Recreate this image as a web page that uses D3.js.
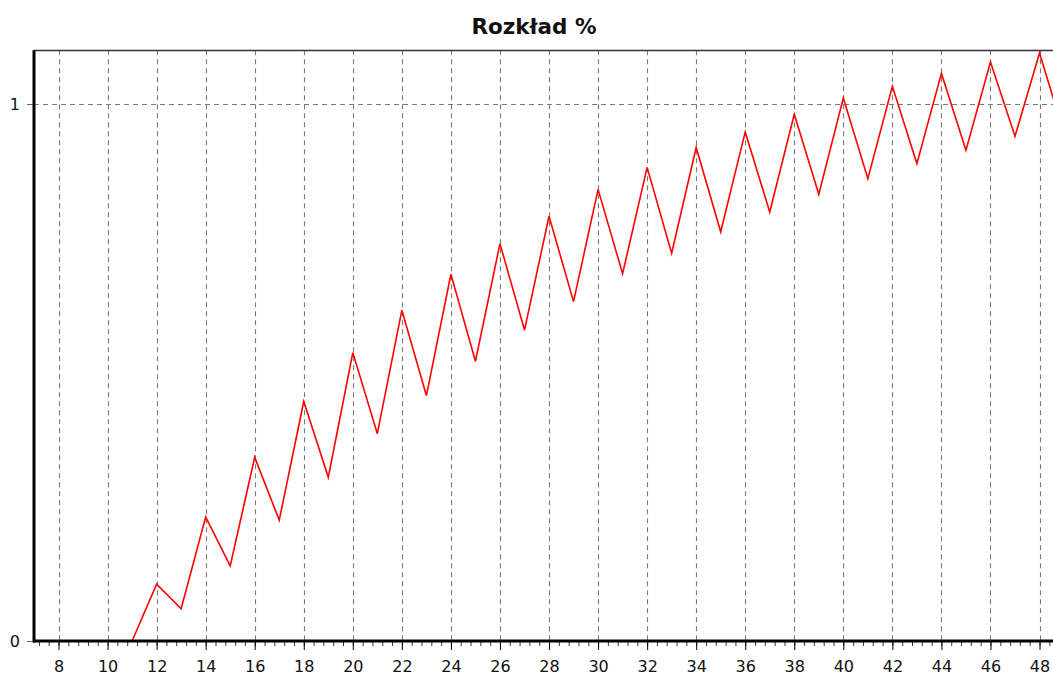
<!DOCTYPE html>
<html>
<head>
<meta charset="utf-8">
<script src="https://cdn.jsdelivr.net/npm/d3@7"></script>
<style>
  html, body { margin: 0; padding: 0; background: #fff; overflow: hidden; }
  svg { display: block; }
</style>
</head>
<body>
<svg id="chart" width="1053" height="679"></svg>
<script>
const title = "Rozkład %";
const xValues = [7, 8, 9, 10, 11, 12, 13, 14, 15, 16, 17, 18, 19, 20, 21, 22, 23, 24, 25, 26, 27, 28, 29, 30,
                 31, 32, 33, 34, 35, 36, 37, 38, 39, 40, 41, 42, 43, 44, 45, 46, 47, 48, 49];
const yValues = [0, 0, 0, 0, 0, 0.106, 0.060, 0.231, 0.140, 0.342, 0.225, 0.446, 0.305, 0.537, 0.386, 0.616, 0.457,
                 0.683, 0.521, 0.740, 0.579, 0.791, 0.632, 0.841, 0.684, 0.882, 0.722, 0.919, 0.762, 0.948,
                 0.799, 0.981, 0.832, 1.011, 0.861, 1.033, 0.889, 1.057, 0.914, 1.078, 0.940, 1.095, 0.945];
const xTicks = [8, 10, 12, 14, 16, 18, 20, 22, 24, 26, 28, 30, 32, 34, 36, 38, 40, 42, 44, 46, 48];
const yTicks = [0, 1];

(function () {
const svg = d3.select("#chart");
const left = 34, bottom = 641;
const unit = 24.525;
const x = d3.scaleLinear().domain([7, 50]).range([left, left + 43 * unit]);
const y = d3.scaleLinear().domain([0, 1.1]).range([bottom, bottom - 1.1 * 537]);
const plotTop = y(1.1);
const right = x(50);

// title
svg.append("text")
  .attr("x", 534).attr("y", 34)
  .attr("text-anchor", "middle")
  .attr("font-family", "'DejaVu Sans', Verdana, sans-serif")
  .attr("font-weight", "bold")
  .attr("font-size", 21.5)
  .attr("fill", "#111")
  .text(title);

// grid
const grid = svg.append("g").attr("stroke", "#7a7a7a").attr("stroke-width", 1.1).attr("stroke-dasharray", "5,4");
grid.selectAll("line.v").data(xTicks).join("line").attr("class", "v")
  .attr("x1", d => Math.round(x(d)) + 0.5).attr("x2", d => Math.round(x(d)) + 0.5)
  .attr("y1", plotTop).attr("y2", bottom);
grid.selectAll("line.h").data(yTicks.filter(d => d > 0)).join("line").attr("class", "h")
  .attr("x1", left).attr("x2", right)
  .attr("y1", d => Math.round(y(d)) + 0.5).attr("y2", d => Math.round(y(d)) + 0.5);

// top border
svg.append("line").attr("x1", left).attr("x2", right).attr("y1", Math.round(plotTop) + 0.5).attr("y2", Math.round(plotTop) + 0.5)
  .attr("stroke", "#333").attr("stroke-width", 1.5);

// line
const line = d3.line().x((d, i) => x(xValues[i])).y(d => y(d));
svg.append("path").datum(yValues)
  .attr("d", line)
  .attr("fill", "none")
  .attr("stroke", "#ff0000")
  .attr("stroke-width", 1.6);

// x axis
const minorTicks = d3.range(7.2, 50, 0.4).map(v => +v.toFixed(1));
const xAxisMinor = d3.axisBottom(x).tickValues(minorTicks).tickSize(5).tickFormat("");
const gMinor = svg.append("g").attr("transform", `translate(0,${bottom})`).call(xAxisMinor);
gMinor.select(".domain").remove();
gMinor.selectAll("line").attr("stroke", "#333");

const xAxis = d3.axisBottom(x).tickValues(xTicks).tickSize(9).tickPadding(11).tickFormat(d3.format("d"));
const gx = svg.append("g").attr("transform", `translate(0,${bottom})`).call(xAxis);
gx.select(".domain").remove();
gx.selectAll("line").attr("stroke", "#000");
gx.selectAll("text").attr("font-family", "'DejaVu Sans', Verdana, sans-serif").attr("font-size", 16).attr("fill", "#111");

// y axis
const yAxis = d3.axisLeft(y).tickValues(yTicks).tickSize(7).tickPadding(7).tickFormat(d3.format("d"));
const gy = svg.append("g").attr("transform", `translate(${left},0)`).call(yAxis);
gy.select(".domain").remove();
gy.selectAll("line").attr("stroke", "#666");
gy.selectAll("text").attr("font-family", "'DejaVu Sans', Verdana, sans-serif").attr("font-size", 16).attr("fill", "#111");

// axis lines (thick)
svg.append("line").attr("x1", left - 1).attr("x2", right).attr("y1", bottom).attr("y2", bottom)
  .attr("stroke", "#000").attr("stroke-width", 3);
svg.append("line").attr("x1", left).attr("x2", left).attr("y1", plotTop).attr("y2", bottom + 1.5)
  .attr("stroke", "#000").attr("stroke-width", 3);
})();
</script>
</body>
</html>
